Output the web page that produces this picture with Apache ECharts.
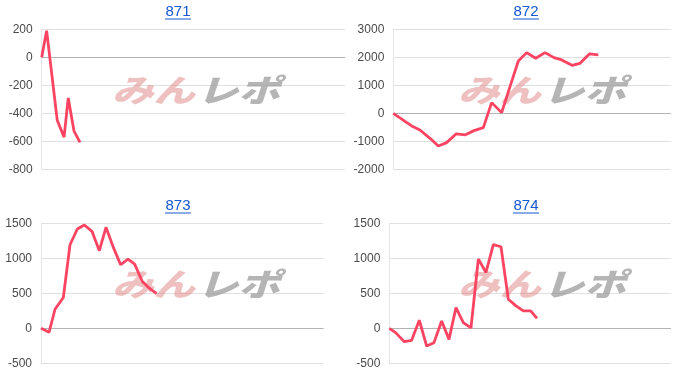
<!DOCTYPE html>
<html><head><meta charset="utf-8">
<script src="https://cdn.jsdelivr.net/npm/echarts@6/dist/echarts.min.js"></script>
<style>html,body{margin:0;padding:0;background:#fff}#c{width:700px;height:388px}</style>
</head><body><div id="c"></div>
<script>
// Unit numbers (titles)
const titles = ['871', '872', '873', '874'];
// Game counts (x) and coin difference (y) per unit
const games871 = [0, 130, 410, 590, 700, 850, 1010];
const diff871  = [0, 190, -450, -570, -290, -525, -607];
const games872 = [0, 529, 769, 1058, 1298, 1538, 1808, 2067, 2327, 2596, 2837, 3125, 3365, 3606, 3846, 4106, 4375, 4635, 4856, 5154, 5385, 5654, 5913];
const diff872  = [0, -452, -595, -893, -1167, -1048, -738, -774, -619, -512, 381, 24, 952, 1869, 2167, 1964, 2167, 1988, 1905, 1714, 1786, 2119, 2083];
const games873 = [0, 227, 397, 633, 822, 1030, 1228, 1445, 1653, 1842, 2050, 2257, 2465, 2654, 2871, 3070, 3277];
const diff873  = [0, -57, 272, 440, 1194, 1419, 1476, 1385, 1108, 1443, 1156, 908, 989, 917, 669, 573, 497];
const games874 = [0, 180, 427, 635, 853, 1062, 1270, 1488, 1697, 1896, 2104, 2322, 2531, 2749, 2957, 3175, 3384, 3602, 3810, 4019, 4199];
const diff874  = [0, -62, -191, -172, 115, -253, -205, 105, -158, 296, 81, 5, 989, 798, 1194, 1165, 416, 320, 248, 248, 143];
// Y axis ranges
const yMin = [-800, -2000, -500, -500];
const yMax = [200, 3000, 1500, 1500];
const yStep = [200, 1000, 500, 500];
const xMaxGames = 8000;

const gamesAll = [games871, games872, games873, games874];
const diffAll = [diff871, diff872, diff873, diff874];

const grids = [
  {left: 41.7, right: 355, top: 29.3, height: 140},
  {left: 393.3, right: 29.3, top: 29.3, height: 140},
  {left: 41, right: 376.7, top: 223.3, height: 140},
  {left: 389.3, right: 29.3, top: 223.3, height: 140}
];
const titlePos = [[178, 12], [526, 12], [178, 206], [526, 206]];
const markPos = [[112, 90], [458, 90], [112, 284], [458, 284]];

const chart = echarts.init(document.getElementById('c'));
const xAxis = [], yAxis = [], series = [], graphic = [];
for (let i = 0; i < 4; i++) {
  xAxis.push({
    type: 'value', gridIndex: i, min: 0, max: xMaxGames,
    axisLabel: {show: false}, axisTick: {show: false}, splitLine: {show: false},
    axisLine: {show: true, onZero: true, lineStyle: {color: '#b4b4b4', width: 1}}
  });
  yAxis.push({
    type: 'value', gridIndex: i, min: yMin[i], max: yMax[i], interval: yStep[i],
    axisLine: {show: true, lineStyle: {color: '#e6e6e6'}}, axisTick: {show: false},
    axisLabel: {color: '#4a4a4a', fontSize: 12, fontFamily: 'Arial, Liberation Sans, sans-serif', margin: 9,
      formatter: v => String(v)},
    splitLine: {lineStyle: {color: '#e0e0e0'}}
  });
  series.push({
    type: 'line', xAxisIndex: i, yAxisIndex: i, z: 5,
    data: gamesAll[i].map((g, k) => [g, diffAll[i][k]]),
    showSymbol: false, smooth: false,
    lineStyle: {color: '#fb4462', width: 2.8}
  });
  const [tx, ty] = titlePos[i];
  graphic.push({
    type: 'text', x: tx, y: ty, z: 10,
    style: {text: titles[i], fill: '#1558d0', font: '15px Arial, Liberation Sans, sans-serif', align: 'center', verticalAlign: 'middle'}
  });
  graphic.push({
    type: 'line', z: 10, shape: {x1: tx - 13, y1: ty + 7, x2: tx + 13, y2: ty + 7},
    style: {stroke: '#1558d0', lineWidth: 1}
  });
  const [mx, my] = markPos[i];
  graphic.push({
    type: 'text', x: mx, y: my, z: 1, scaleX: 1.12, scaleY: 0.85,
    style: {text: 'みん', fill: 'rgba(222,130,130,0.5)', font: 'italic 900 37px "Noto Sans CJK JP", sans-serif', align: 'left', verticalAlign: 'middle'}
  });
  graphic.push({
    type: 'text', x: mx + 85, y: my, z: 1, scaleX: 1.12, scaleY: 0.85,
    style: {text: 'レポ', fill: 'rgba(150,150,150,0.7)', font: 'italic 900 37px "Noto Sans CJK JP", sans-serif', align: 'left', verticalAlign: 'middle'}
  });
}

chart.setOption({
  animation: false,
  backgroundColor: '#fff',
  grid: grids,
  xAxis, yAxis, series, graphic
});
</script></body></html>
